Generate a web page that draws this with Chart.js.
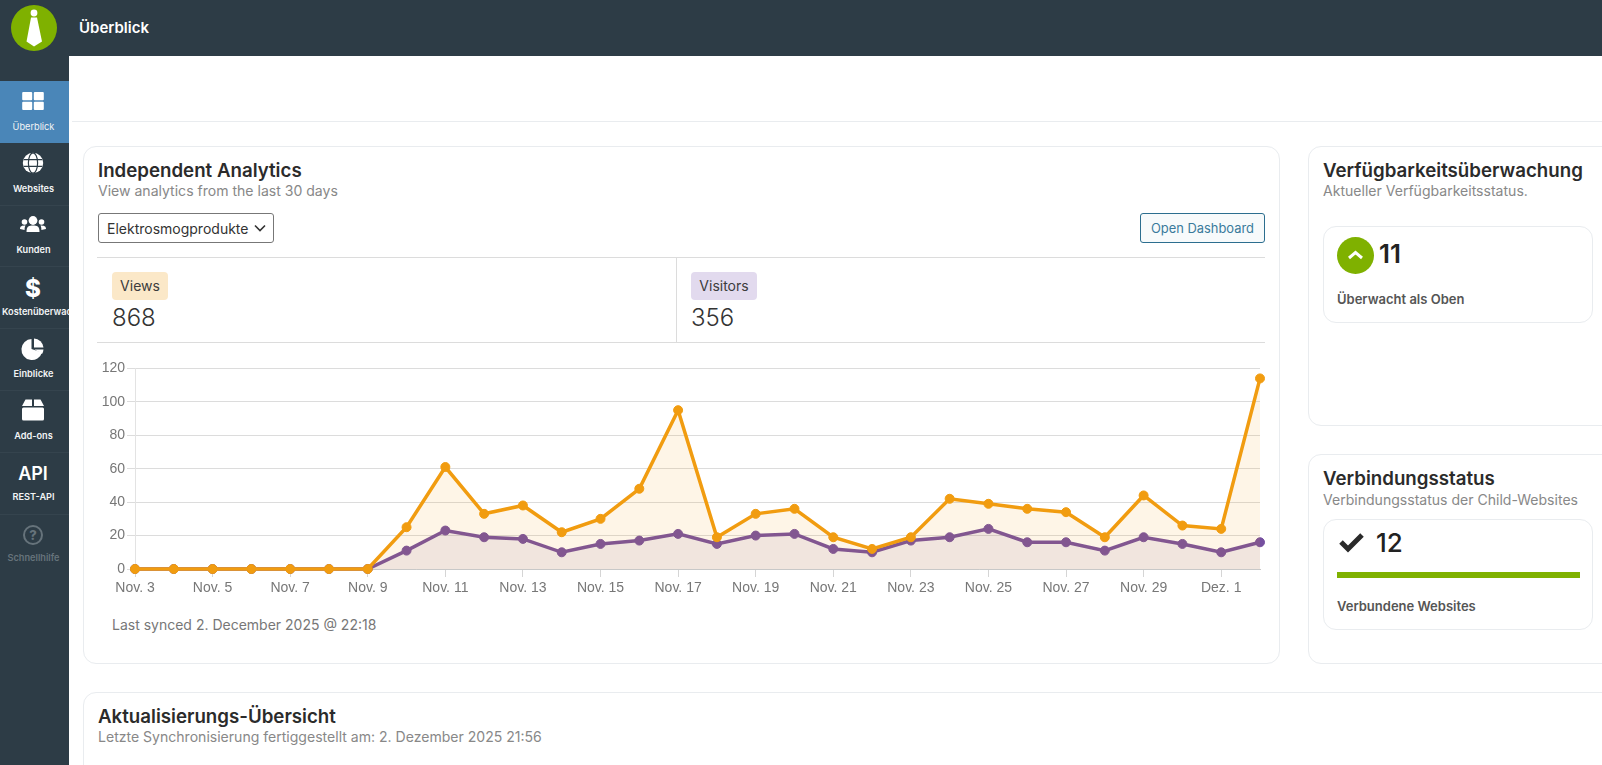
<!DOCTYPE html>
<html lang="de">
<head>
<meta charset="utf-8">
<title>Überblick</title>
<script src="https://cdn.jsdelivr.net/npm/chart.js@4"></script>
<style>
html, body { margin: 0; padding: 0; background: #fff; }
body { width: 1602px; height: 765px; overflow: hidden; position: relative; font-family: Inter, sans-serif; color: #2a2a2a; }
.abs, .t { position: absolute; }
.t { white-space: nowrap; transform: translateY(-50%); }
#topbar { left: 0; top: 0; width: 1602px; height: 56px; background: #2d3c46; }
#sidebar { left: 0; top: 0; width: 69px; height: 765px; background: #2d3c46; overflow: hidden; }
#logo { left: 10.5px; top: 5px; width: 46px; height: 46px; border-radius: 50%; background: #7fb100; }
.active { left: 0; top: 81px; width: 69px; height: 62px; background: #4a86b8; }
.sep { left: 0; width: 69px; height: 1px; background: #35444e; }
.nav { left: 0; width: 67px; text-align: center; font-size: 9.2px; font-weight: 600; color: #f2f4f5; }
.icon { left: 19px; width: 28px; height: 28px; }
.card { border: 1px solid #e9ecef; border-radius: 13px; background: #fff; box-sizing: border-box; }
.h { font-size: 18.7px; font-weight: 600; color: #2b2b2b; }
.sub { font-size: 14.05px; color: #888; }
.line { background: #dcdcdc; }
.badge { border-radius: 4px; font-size: 14px; text-align: center; line-height: 28px; height: 28px; color: #3c3c3c; }
.num { font-size: 24px; font-weight: 300; color: #333; }
.lab { font-size: 13px; font-weight: 600; color: #555; }
#chartBox { left: 98px; top: 358px; width: 1170px; height: 252px; }
</style>
</head>
<body>

<div class="abs" id="topbar"></div>
<div class="t" style="left:79px;top:27px;font-size:15px;font-weight:600;color:#fff">Überblick</div>

<div class="abs" id="sidebar">
  <div class="abs" id="logo"></div>
  <svg class="abs" style="left:10.5px;top:5px" width="46" height="46" viewBox="0 0 46 46">
    <circle cx="23" cy="8" r="3.4" fill="#fff"/>
    <path d="M20 12.5 L26 12.5 L31 36.5 L23 41.5 L15.500 36.5 Z" fill="#fff"/>
  </svg>
  <div class="abs active"></div>
  <div class="abs sep" style="top:205px"></div>
  <div class="abs sep" style="top:266px"></div>
  <div class="abs sep" style="top:328px"></div>
  <div class="abs sep" style="top:390px"></div>
  <div class="abs sep" style="top:452px"></div>
  <div class="abs sep" style="top:514px"></div>

  <svg class="abs icon" style="top:87px" viewBox="0 0 28 28" fill="#fff">
    <rect x="3.2" y="5" width="10" height="8.2" rx="1"/><rect x="14.8" y="5" width="10" height="8.2" rx="1"/>
    <rect x="3.2" y="14.8" width="10" height="8.2" rx="1"/><rect x="14.8" y="14.8" width="10" height="8.2" rx="1"/>
  </svg>
  <div class="t nav" style="top:125.700px;font-weight:400">Überblick</div>

  <svg class="abs icon" style="top:149px" viewBox="0 0 28 28" fill="#fff">
    <circle cx="14" cy="14" r="10.2"/>
    <g fill="none" stroke="#2d3c46" stroke-width="1.2">
      <ellipse cx="14" cy="14" rx="4.6" ry="10.2"/>
      <path d="M4.6 10.6 H23.4 M4.6 17.4 H23.4"/>
    </g>
  </svg>
  <div class="t nav" style="top:187.700px">Websites</div>

  <svg class="abs icon" style="top:211px" viewBox="0 0 28 28" fill="#fff">
    <circle cx="14" cy="9.5" r="4.4"/><circle cx="5.5" cy="11" r="2.8"/><circle cx="22.5" cy="11" r="2.8"/>
    <path d="M7.5 21 C7.5 15 10 14.5 14 14.5 C18 14.5 20.500 15 20.500 21 Z"/>
    <path d="M1 18 C1 15 3 14.500 6.500 14.500 C5.800 16 5.600 17 5.600 19 Z"/>
    <path d="M27 18 C27 15 25 14.500 21.500 14.500 C22.200 16 22.400 17 22.400 19 Z"/>
  </svg>
  <div class="t nav" style="top:248.700px">Kunden</div>

  <div class="t" style="left:0;width:66px;text-align:center;top:288px;font-size:24px;font-weight:800;color:#fff">$</div>
  <div class="t" style="left:2px;top:310.700px;font-size:9.2px;font-weight:600;color:#f2f4f5">Kostenüberwachung</div>

  <svg class="abs icon" style="top:335px" viewBox="0 0 28 28" fill="#fff">
    <path d="M12.500 4 A10.500 10.500 0 1 0 23 17.500 L12.500 14 Z"/>
    <path d="M15 3.500 A10 10 0 0 1 24.500 12.500 L15 12.500 Z"/>
    <path d="M15.500 14.500 L24.500 14.500 A10 10 0 0 1 23 19 Z"/>
  </svg>
  <div class="t nav" style="top:372.700px">Einblicke</div>

  <svg class="abs icon" style="top:396px" viewBox="0 0 28 28" fill="#fff">
    <path d="M6.500 3.500 H13 V10 H3 Z"/>
    <path d="M15 3.500 H21.500 L25 10 H15 Z"/>
    <rect x="3" y="11.500" width="22" height="13" rx="1.500"/>
  </svg>
  <div class="t nav" style="top:434.700px">Add-ons</div>

  <div class="t" style="left:0;width:66px;text-align:center;top:473px;font-size:18px;font-weight:600;color:#fff">API</div>
  <div class="t nav" style="top:495.700px">REST-API</div>

  <svg class="abs icon" style="top:521px" viewBox="0 0 28 28">
    <circle cx="14" cy="14" r="9" fill="none" stroke="#66737b" stroke-width="2"/>
    <text x="14" y="18.500" text-anchor="middle" font-family="Inter, sans-serif" font-size="13" font-weight="800" fill="#66737b">?</text>
  </svg>
  <div class="t nav" style="top:556.700px;color:#66737b">Schnellhilfe</div>
</div>

<div class="abs line" style="left:72px;top:121px;width:1530px;height:1px;background:#e9ecef"></div>

<!-- main card -->
<div class="abs card" style="left:83px;top:146px;width:1197px;height:518px"></div>
<div class="t h" style="left:98px;top:169.700px">Independent Analytics</div>
<div class="t sub" style="left:98px;top:190px">View analytics from the last 30 days</div>

<div class="abs" style="left:98px;top:213px;width:176px;height:30px;box-sizing:border-box;border:1px solid #777;border-radius:3px"></div>
<div class="t" style="left:107px;top:228px;font-size:14px;color:#333">Elektrosmogprodukte</div>
<svg class="abs" style="left:253px;top:223px" width="14" height="10" viewBox="0 0 14 10"><path d="M2 2.500 L7 7.500 L12 2.500" fill="none" stroke="#333" stroke-width="1.600"/></svg>

<div class="abs" style="left:1140px;top:213px;width:125px;height:30px;box-sizing:border-box;border:1px solid #2c6e8f;border-radius:3px;background:#f7fafb"></div>
<div class="t" style="left:1140px;width:125px;text-align:center;top:228px;font-size:12.900px;color:#3a7a9c">Open Dashboard</div>

<div class="abs line" style="left:97px;top:257px;width:1168px;height:1px"></div>
<div class="abs line" style="left:97px;top:342px;width:1168px;height:1px"></div>
<div class="abs line" style="left:676px;top:257px;width:1px;height:85px"></div>

<div class="abs badge" style="left:112px;top:272px;width:56px;background:#fbe8c8">Views</div>
<div class="t num" style="left:112px;top:317px">868</div>
<div class="abs badge" style="left:691px;top:272px;width:66px;background:#e2daee">Visitors</div>
<div class="t num" style="left:691px;top:317px">356</div>

<div class="abs" id="chartBox"><canvas id="myChart" width="1170" height="252"></canvas></div>

<div class="t" style="left:112px;top:624px;font-size:14px;color:#777">Last synced 2. December 2025 @ 22:18</div>

<!-- availability card -->
<div class="abs card" style="left:1308px;top:146px;width:320px;height:280px"></div>
<div class="t h" style="left:1323px;top:169.700px">Verfügbarkeitsüberwachung</div>
<div class="t sub" style="left:1323px;top:190px">Aktueller Verfügbarkeitsstatus.</div>
<div class="abs card" style="left:1323px;top:226px;width:270px;height:97px"></div>
<div class="abs" style="left:1337px;top:237px;width:37px;height:37px;border-radius:50%;background:#7fb100"></div>
<svg class="abs" style="left:1337px;top:237px" width="37" height="37" viewBox="0 0 37 37"><path d="M12 21 L18.500 15.500 L25 21" fill="none" stroke="#fff" stroke-width="3"/></svg>
<div class="t" style="left:1379px;top:253px;font-size:26px;font-weight:600;color:#222">11</div>
<div class="t lab" style="left:1337px;top:299px">Überwacht als Oben</div>

<!-- connection card -->
<div class="abs card" style="left:1308px;top:454px;width:320px;height:210px"></div>
<div class="t h" style="left:1323px;top:478px">Verbindungsstatus</div>
<div class="t sub" style="left:1323px;top:499px">Verbindungsstatus der Child-Websites</div>
<div class="abs card" style="left:1323px;top:519px;width:270px;height:111px"></div>
<svg class="abs" style="left:1338px;top:531px" width="27" height="22" viewBox="0 0 27 22"><path d="M3 11 L10 18 L24 4" fill="none" stroke="#2a2a2a" stroke-width="5"/></svg>
<div class="t" style="left:1376px;top:542px;font-size:26px;font-weight:500;color:#222">12</div>
<div class="abs" style="left:1337px;top:572px;width:243px;height:6px;background:#7fb100"></div>
<div class="t lab" style="left:1337px;top:606px">Verbundene Websites</div>

<!-- updates card -->
<div class="abs card" style="left:83px;top:692px;width:1570px;height:200px"></div>
<div class="t h" style="left:98px;top:716px">Aktualisierungs-Übersicht</div>
<div class="t sub" style="left:98px;top:736px">Letzte Synchronisierung fertiggestellt am: 2. Dezember 2025 21:56</div>

<script>
'use strict';
let days = ['Nov. 3', 'Nov. 4', 'Nov. 5', 'Nov. 6', 'Nov. 7', 'Nov. 8', 'Nov. 9', 'Nov. 10', 'Nov. 11', 'Nov. 12',
    'Nov. 13', 'Nov. 14', 'Nov. 15', 'Nov. 16', 'Nov. 17', 'Nov. 18', 'Nov. 19', 'Nov. 20', 'Nov. 21', 'Nov. 22',
    'Nov. 23', 'Nov. 24', 'Nov. 25', 'Nov. 26', 'Nov. 27', 'Nov. 28', 'Nov. 29', 'Nov. 30', 'Dez. 1', 'Dez. 2'];
let views = [0, 0, 0, 0, 0, 0, 0, 25, 61, 33, 38, 22, 30, 48, 95, 19, 33, 36, 19, 12, 19, 42, 39, 36, 34, 19, 44, 26, 24, 114];
let visitors = [0, 0, 0, 0, 0, 0, 0, 11, 23, 19, 18, 10, 15, 17, 21, 15, 20, 21, 12, 10, 17, 19, 24, 16, 16, 11, 19, 15, 10, 16];
let yMax = 120;
let yStep = 20;

let ctx = document.getElementById('myChart').getContext('2d');
let myChart = new Chart(ctx, {
    type: 'line',
    data: {
        labels: days,
        datasets: [{
            label: 'Views',
            data: views,
            borderColor: '#f19c10',
            backgroundColor: 'rgba(243, 156, 18, 0.1)',
            pointBackgroundColor: '#f19c10',
            pointBorderColor: '#f19c10',
            borderWidth: 3.5,
            pointRadius: 4.5,
            pointBorderWidth: 1,
            tension: 0,
            fill: 'origin',
            clip: false
        }, {
            label: 'Visitors',
            data: visitors,
            borderColor: '#754f9f',
            backgroundColor: 'rgba(117, 79, 159, 0.1)',
            pointBackgroundColor: '#754f9f',
            pointBorderColor: '#754f9f',
            borderWidth: 3.5,
            pointRadius: 4.5,
            pointBorderWidth: 1,
            tension: 0,
            fill: 'origin',
            clip: false
        }]
    },
    options: {
        responsive: false,
        animation: false,
        layout: { padding: { top: 9, right: 8, left: 0, bottom: 0 } },
        plugins: { legend: { display: false }, tooltip: { enabled: false } },
        scales: {
            x: {
                afterFit: function (axis) { axis.height = 41; },
                grid: { drawOnChartArea: false, color: '#d5d5d5', tickLength: 8 },
                border: { color: '#c8c8c8' },
                ticks: {
                    autoSkip: true,
                    maxTicksLimit: 15,
                    maxRotation: 0,
                    color: '#777',
                    padding: 3,
                    font: { family: 'Liberation Sans', size: 14 }
                }
            },
            y: {
                min: 0,
                max: yMax,
                afterFit: function (axis) { axis.width = 37; },
                grid: { color: '#dcdcdc', tickLength: 8 },
                border: { color: '#e3e3e3' },
                ticks: {
                    stepSize: yStep,
                    color: '#777',
                    padding: 2,
                    font: { family: 'Liberation Sans', size: 14 }
                }
            }
        }
    }
});
</script>
</body>
</html>
